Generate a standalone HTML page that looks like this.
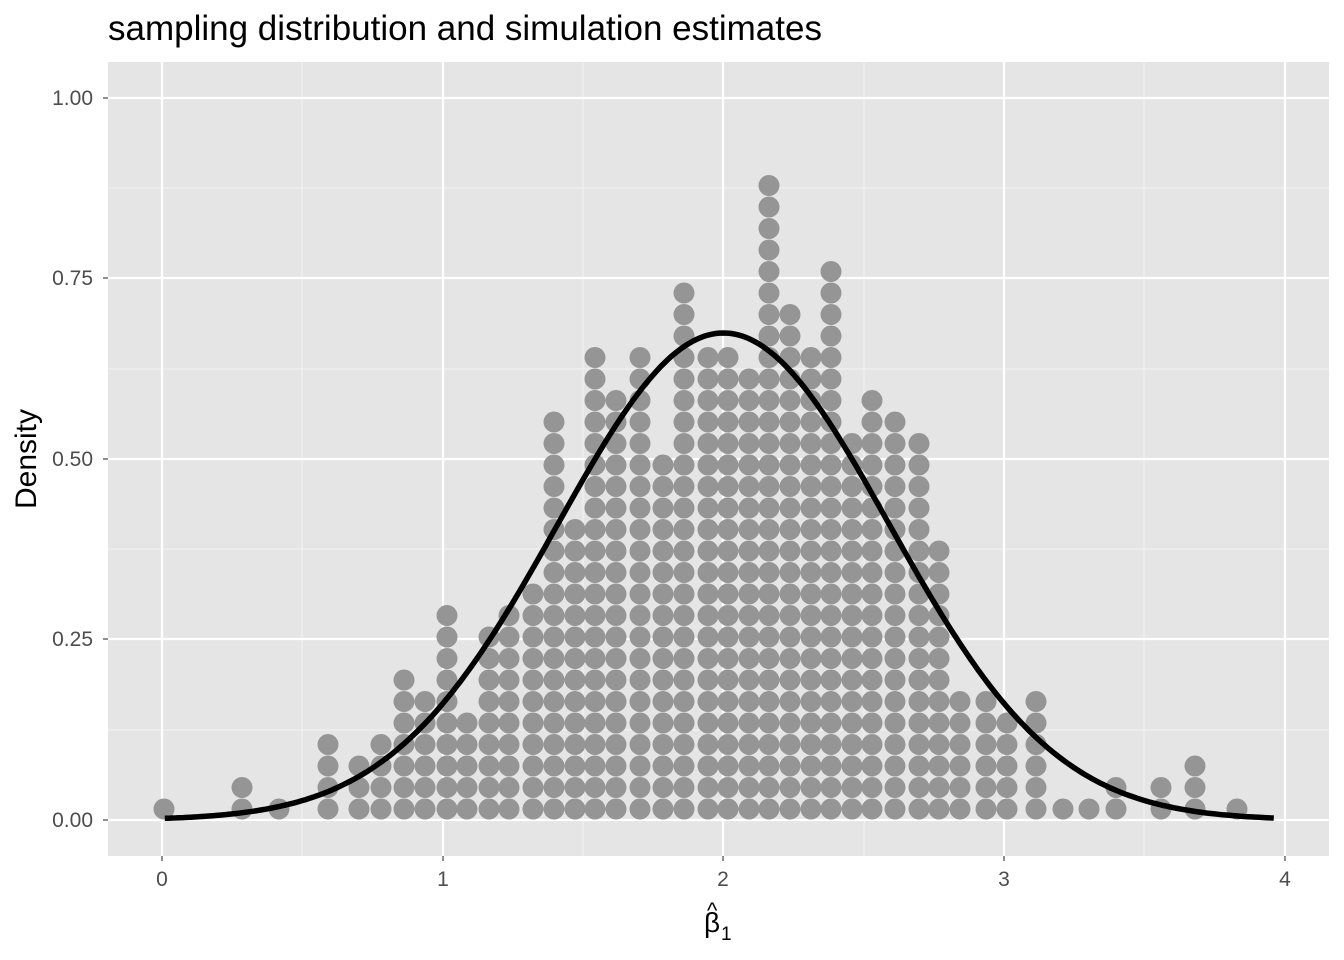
<!DOCTYPE html>
<html><head><meta charset="utf-8">
<style>
html,body{margin:0;padding:0;background:#fff;}
svg{display:block;font-family:"Liberation Sans",Arial,sans-serif;}
</style></head>
<body>
<svg id="s" width="1344" height="960" xmlns="http://www.w3.org/2000/svg">
<rect x="0" y="0" width="1344" height="960" fill="#fff"/>
<rect x="108" y="62" width="1221" height="794" fill="#e5e5e5"/>
<g stroke="#f2f2f2" stroke-width="1.1">
<line x1="302" y1="62" x2="302" y2="856"/><line x1="583" y1="62" x2="583" y2="856"/>
<line x1="864" y1="62" x2="864" y2="856"/><line x1="1144" y1="62" x2="1144" y2="856"/>
<line x1="108" y1="730" x2="1329" y2="730"/><line x1="108" y1="549" x2="1329" y2="549"/>
<line x1="108" y1="369" x2="1329" y2="369"/><line x1="108" y1="188" x2="1329" y2="188"/>
</g>
<g stroke="#fff" stroke-width="2.2">
<line x1="162" y1="62" x2="162" y2="856"/><line x1="443" y1="62" x2="443" y2="856"/>
<line x1="723" y1="62" x2="723" y2="856"/><line x1="1004" y1="62" x2="1004" y2="856"/>
<line x1="1285" y1="62" x2="1285" y2="856"/>
<line x1="108" y1="820" x2="1329" y2="820"/><line x1="108" y1="639" x2="1329" y2="639"/>
<line x1="108" y1="459" x2="1329" y2="459"/><line x1="108" y1="278" x2="1329" y2="278"/>
<line x1="108" y1="98" x2="1329" y2="98"/>
</g>
<g id="dots" fill="#959595"></g>
<path id="curve" fill="none" stroke="#000" stroke-width="5.5"/>
<g stroke="#333" stroke-width="1.1">
<line x1="103" y1="820" x2="108" y2="820"/><line x1="103" y1="639" x2="108" y2="639"/>
<line x1="103" y1="459" x2="108" y2="459"/><line x1="103" y1="278" x2="108" y2="278"/>
<line x1="103" y1="98" x2="108" y2="98"/>
<line x1="162" y1="856" x2="162" y2="861"/><line x1="443" y1="856" x2="443" y2="861"/>
<line x1="723" y1="856" x2="723" y2="861"/><line x1="1004" y1="856" x2="1004" y2="861"/>
<line x1="1285" y1="856" x2="1285" y2="861"/>
</g>
<g fill="#4d4d4d" font-size="21" text-anchor="end">
<text x="93" y="827">0.00</text><text x="93" y="646">0.25</text>
<text x="93" y="466">0.50</text><text x="93" y="285">0.75</text>
<text x="93" y="105">1.00</text>
</g>
<g fill="#4d4d4d" font-size="21" text-anchor="middle">
<text x="162" y="886">0</text><text x="443" y="886">1</text><text x="723" y="886">2</text>
<text x="1004" y="886">3</text><text x="1285" y="886">4</text>
</g>
<text x="108" y="40" font-size="35" fill="#000">sampling distribution and simulation estimates</text>
<text transform="translate(36,459) rotate(-90)" font-size="30" text-anchor="middle" fill="#000">Density</text>
<text x="704" y="932" font-size="28" fill="#000">β</text>
<text x="707" y="918" font-size="22" fill="#000">^</text>
<text x="721" y="940" font-size="19" fill="#000">1</text>
</svg>
<script>
var cols=[[164,1],[242,2],[279,1],[328,4],[359,3],[381,4],[404,7],[425,6],[447,10],[467,5],[489,9],[509,10],[533,11],[554,19],[575,14],[595,22],[616,20],[640,22],[663,17],[684,25],[708,22],[728,22],[749,21],[769,30],[790,24],[811,22],[831,26],[852,18],[872,20],[895,19],[919,18],[939,13],[960,6],[986,6],[1007,5],[1036,6],[1063,1],[1089,1],[1116,2],[1161,2],[1195,3],[1237,1]];
var g=document.getElementById('dots'),h='';
cols.forEach(function(c){for(var k=0;k<c[1];k++){h+='<circle cx="'+c[0]+'" cy="'+(809-21.5*k)+'" r="10.5"/>';}});
g.innerHTML=h;
var sd=0.591,d='';
for(var i=0;i<=300;i++){var x=0.01+(3.96-0.01)*i/300;var y=Math.exp(-Math.pow(x-2,2)/(2*sd*sd))/(sd*Math.sqrt(2*Math.PI));
var px=162+x*280.75,py=820-y*721.5;d+=(i?'L':'M')+px.toFixed(1)+' '+py.toFixed(1);}
document.getElementById('curve').setAttribute('d',d);
</script>
</body></html>
